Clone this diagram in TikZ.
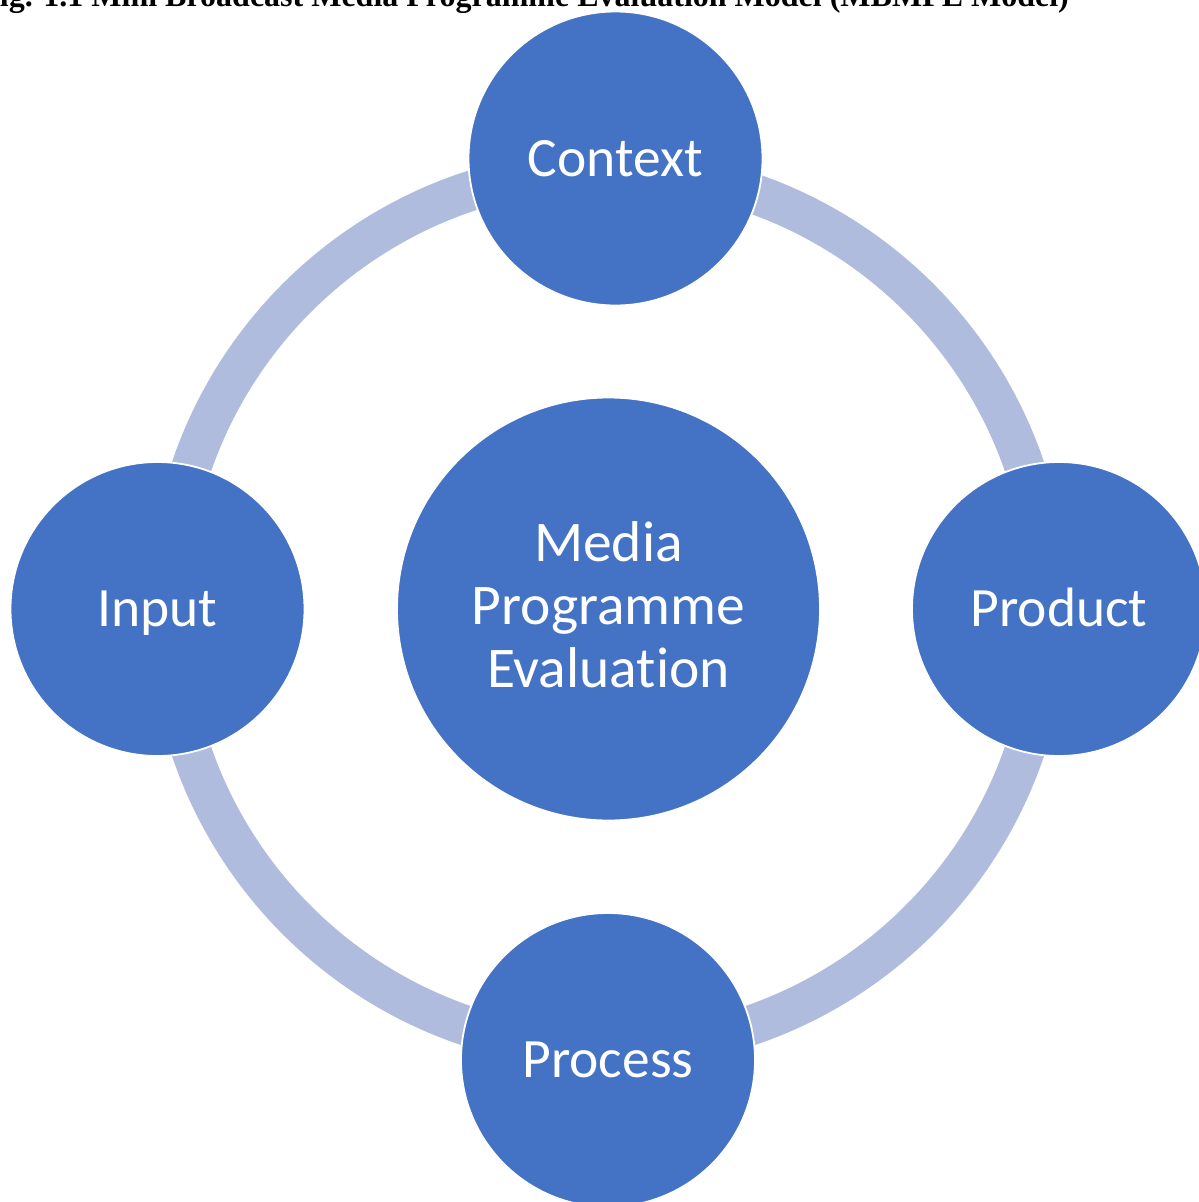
\documentclass[tikz,border=0pt]{standalone}
\usepackage{fontspec}
\setmainfont{Carlito}[Ligatures=NoCommon]
\newfontfamily\titlefont{Liberation Serif}
\definecolor{nodeblue}{RGB}{68,114,196}
\definecolor{ringblue}{RGB}{175,188,221}
\begin{document}
\begin{tikzpicture}[x=1pt,y=-1pt,
  bub/.style={circle, fill=nodeblue, draw=white, line width=1.8pt, minimum size=294pt, inner sep=0pt,
    text=white, font=\fontsize{55.5}{64}\selectfont, text height=35.7pt, text depth=0pt},
  hub/.style={circle, fill=nodeblue, draw=white, line width=1.8pt, minimum size=423pt, inner sep=0pt,
    text=white, font=\fontsize{57.5}{63}\selectfont, align=center, text depth=8pt},
  ring/.style={draw=ringblue, line width=40pt},
  ttl/.style={font=\titlefont\bfseries\fontsize{32}{38}\selectfont, text=black, inner sep=0pt, anchor=base east}]
\useasboundingbox (0,0) rectangle (1199,1202);
\fill[white] (0,0) rectangle (1199,1202);
\coordinate (o) at (608,609);
\draw[ring] (o) circle[radius=440];
\node[bub] (context) at (615.5,158.5) {Context};
\node[bub] (product) at (1059,609) {Product};
\node[bub] (process) at (608,1060) {Process};
\node[bub] (input) at (157.5,609) {Input};
\node[hub] (mpe) at (608.5,609) {Media\\Programme\\Evaluation};
\node[ttl] (title) at (1069,6) {Fig. 1.1 Mini Broadcast Media Programme Evaluation Model (MBMPE Model)};
\end{tikzpicture}
\end{document}
